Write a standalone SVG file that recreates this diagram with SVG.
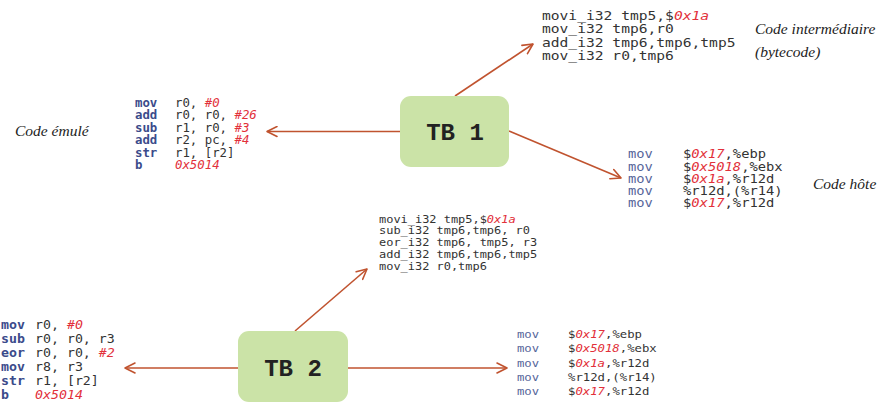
<svg xmlns="http://www.w3.org/2000/svg" width="884" height="405" viewBox="0 0 884 405">
  <defs>
    <marker id="arrow" viewBox="0 0 12 12" refX="11" refY="6" markerWidth="12" markerHeight="12" markerUnits="userSpaceOnUse" orient="auto">
      <path d="M1,1 L11,6 L1,11" fill="none" stroke="#c0532f" stroke-width="1.6" stroke-linecap="round" stroke-linejoin="round"/>
    </marker>
    <style>
      .tb { fill: #cbe3a7; }
      .tbl { font-family: "Liberation Mono", "DejaVu Sans Mono", monospace; font-weight: bold; font-size: 24px; fill: #222; text-anchor: middle; }
      .conn { stroke: #c0532f; stroke-width: 1.6; fill: none; marker-end: url(#arrow); }
      .code { font-family: "DejaVu Sans Mono", monospace; fill: #333; }
      .mn { fill: #3b4b8b; font-weight: bold; }
      .mnh { fill: #56659a; }
      .imm { fill: #e2303a; font-style: italic; }
      .lbl { font-family: "Liberation Serif", serif; font-style: italic; font-size: 15.5px; fill: #222; }
    </style>
  </defs>

  <!-- connectors -->
  <g id="connectors">
    <line class="conn" x1="400" y1="131.5" x2="267" y2="131.5"/>
    <line class="conn" x1="455" y1="96" x2="533" y2="44"/>
    <line class="conn" x1="509" y1="131" x2="621" y2="178"/>
    <line class="conn" x1="295" y1="331" x2="367" y2="269"/>
    <line class="conn" x1="238" y1="368" x2="125" y2="368"/>
    <line class="conn" x1="348" y1="368" x2="507" y2="368"/>
  </g>

  <!-- translation blocks -->
  <g id="tb1">
    <rect class="tb" x="400" y="96" width="109" height="71" rx="11"/>
    <text class="tbl" x="455" y="140">TB 1</text>
  </g>
  <g id="tb2">
    <rect class="tb" x="238" y="331" width="110" height="71" rx="11"/>
    <text class="tbl" x="293" y="376">TB 2</text>
  </g>

  <!-- guest code, TB 1 (monospace widened horizontally) -->
  <g id="guest1" class="code" font-size="11.4" transform="scale(1.085,1)">
    <text x="124.4" y="107" class="mn">mov</text><text x="161.3" y="107">r0, <tspan class="imm">#0</tspan></text>
    <text x="124.4" y="119.5" class="mn">add</text><text x="161.3" y="119.5">r0, r0, <tspan class="imm">#26</tspan></text>
    <text x="124.4" y="132" class="mn">sub</text><text x="161.3" y="132">r1, r0, <tspan class="imm">#3</tspan></text>
    <text x="124.4" y="144.3" class="mn">add</text><text x="161.3" y="144.3">r2, pc, <tspan class="imm">#4</tspan></text>
    <text x="124.4" y="156.7" class="mn">str</text><text x="161.3" y="156.7">r1, [r2]</text>
    <text x="124.4" y="169" class="mn">b</text><text x="161.3" y="169" class="imm">0x5014</text>
  </g>
  <text class="lbl" x="15" y="136">Code émulé</text>

  <!-- intermediate code, TB 1 -->
  <g id="ir1" class="code" font-size="12.5" transform="scale(1.17,1)">
    <text x="463.2" y="20">movi_i32 tmp5,$<tspan class="imm">0x1a</tspan></text>
    <text x="463.2" y="33.5">mov_i32 tmp6,r0</text>
    <text x="463.2" y="47">add_i32 tmp6,tmp6,tmp5</text>
    <text x="463.2" y="60.5">mov_i32 r0,tmp6</text>
  </g>
  <text class="lbl" x="755" y="34">Code intermédiaire</text>
  <text class="lbl" x="755" y="57">(bytecode)</text>

  <!-- host code, TB 1 -->
  <g id="host1" class="code" font-size="11.5" transform="scale(1.2,1)">
    <text x="523.3" y="158.5" class="mnh">mov</text><text x="569.2" y="158.5">$<tspan class="imm">0x17</tspan>,%ebp</text>
    <text x="523.3" y="170.7" class="mnh">mov</text><text x="569.2" y="170.7">$<tspan class="imm">0x5018</tspan>,%ebx</text>
    <text x="523.3" y="182.8" class="mnh">mov</text><text x="569.2" y="182.8">$<tspan class="imm">0x1a</tspan>,%r12d</text>
    <text x="523.3" y="195" class="mnh">mov</text><text x="569.2" y="195">%r12d,(%r14)</text>
    <text x="523.3" y="207" class="mnh">mov</text><text x="569.2" y="207">$<tspan class="imm">0x17</tspan>,%r12d</text>
  </g>
  <text class="lbl" x="813" y="189">Code hôte</text>

  <!-- intermediate code, TB 2 -->
  <g id="ir2" class="code" font-size="10.8" transform="scale(1.107,1)">
    <text x="342.4" y="222.7">movi_i32 tmp5,$<tspan class="imm">0x1a</tspan></text>
    <text x="342.4" y="234.5">sub_i32 tmp6,tmp6, r0</text>
    <text x="342.4" y="246.5">eor_i32 tmp6, tmp5, r3</text>
    <text x="342.4" y="258.3">add_i32 tmp6,tmp6,tmp5</text>
    <text x="342.4" y="270">mov_i32 r0,tmp6</text>
  </g>

  <!-- guest code, TB 2 -->
  <g id="guest2" class="code" font-size="12.4" transform="scale(1.07,1)">
    <text x="0.9" y="329" class="mn">mov</text><text x="32.7" y="329">r0, <tspan class="imm">#0</tspan></text>
    <text x="0.9" y="343" class="mn">sub</text><text x="32.7" y="343">r0, r0, r3</text>
    <text x="0.9" y="357" class="mn">eor</text><text x="32.7" y="357">r0, r0, <tspan class="imm">#2</tspan></text>
    <text x="0.9" y="371.5" class="mn">mov</text><text x="32.7" y="371.5">r8, r3</text>
    <text x="0.9" y="385.5" class="mn">str</text><text x="32.7" y="385.5">r1, [r2]</text>
    <text x="0.9" y="399.5" class="mn">b</text><text x="32.7" y="399.5" class="imm">0x5014</text>
  </g>

  <!-- host code, TB 2 -->
  <g id="host2" class="code" font-size="11" transform="scale(1.117,1)">
    <text x="462.8" y="338.3" class="mnh">mov</text><text x="508.5" y="338.3">$<tspan class="imm">0x17</tspan>,%ebp</text>
    <text x="462.8" y="352.5" class="mnh">mov</text><text x="508.5" y="352.5">$<tspan class="imm">0x5018</tspan>,%ebx</text>
    <text x="462.8" y="366.7" class="mnh">mov</text><text x="508.5" y="366.7">$<tspan class="imm">0x1a</tspan>,%r12d</text>
    <text x="462.8" y="381" class="mnh">mov</text><text x="508.5" y="381">%r12d,(%r14)</text>
    <text x="462.8" y="395" class="mnh">mov</text><text x="508.5" y="395">$<tspan class="imm">0x17</tspan>,%r12d</text>
  </g>
</svg>
